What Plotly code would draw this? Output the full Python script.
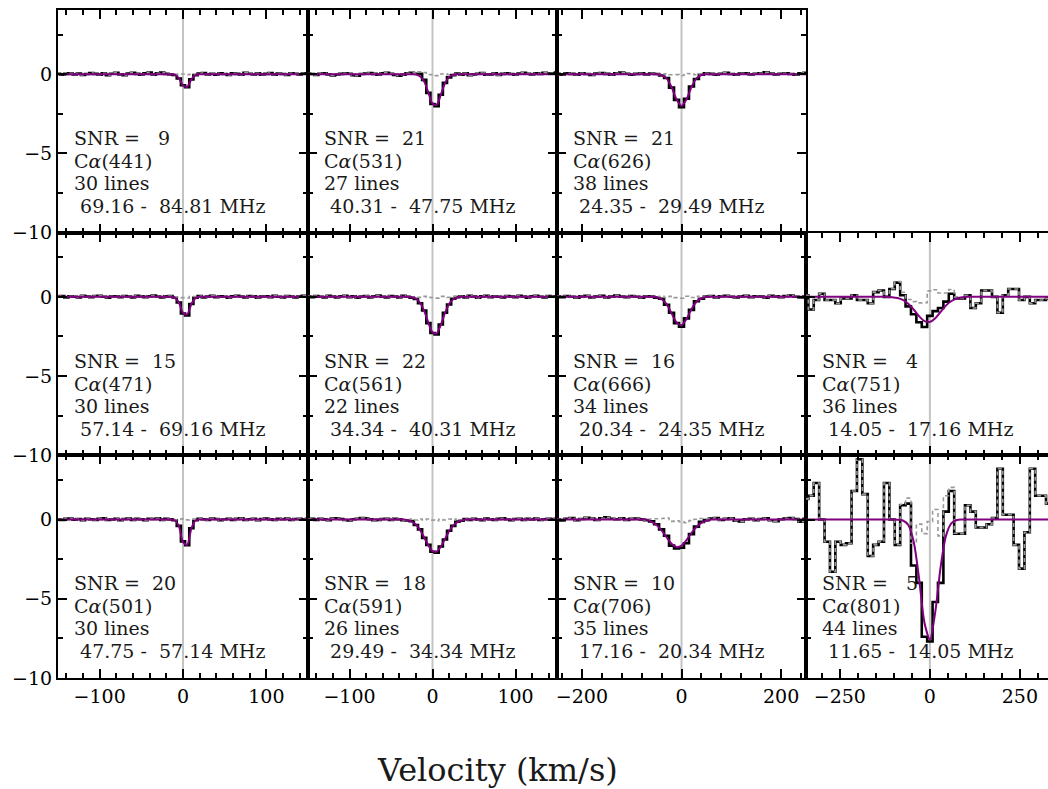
import numpy as np
import plotly.graph_objects as go
from plotly.subplots import make_subplots

# ---------------- velocity channel grids (km/s) ----------------
vel_narrow = np.arange(-150, 151, 5)    # 61 channels, columns 1-2
vel_mid = np.arange(-250, 251, 10)      # 51 channels, column 3
vel_wide = np.arange(-345, 346, 15)     # 47 channels, column 4

# ---------------- stacked spectra ----------------
data_441 = [0.03, -0.04, 0.02, 0.06, -0.02, 0.04, -0.05, 0.01, 0.07, 0.02,
            -0.03, 0.05, -0.06, 0.03, 0.08, -0.01, -0.07, 0.04, 0.09, 0.02,
            -0.04, 0.06, 0.10, -0.03, 0.05, 0.11, 0.02, -0.02, -0.05, -0.27,
            -0.70, -0.82, -0.33, -0.06, 0.04, 0.07, -0.02, 0.03, -0.04, 0.05,
            0.01, -0.05, 0.06, 0.02, -0.03, 0.08, 0.03, -0.02, 0.05, -0.04,
            0.02, 0.07, -0.03, 0.04, 0.01, -0.05, 0.06, 0.03, -0.02, 0.04,
            0.05]
data_531 = [0.04, 0.01, -0.05, 0.03, 0.06, -0.02, -0.08, -0.04, 0.02, 0.05,
            0.03, -0.06, -0.09, 0.01, 0.04, 0.07, 0.02, -0.03, 0.05, 0.08,
            0.03, -0.05, -0.10, -0.04, 0.06, 0.09, 0.03, 0.02, -0.36, -1.18,
            -1.88, -2.02, -1.30, -0.55, -0.20, -0.06, 0.04, -0.03, 0.05, -0.06,
            -0.02, 0.03, 0.07, -0.04, -0.01, 0.05, -0.05, 0.02, 0.06, 0.01,
            -0.03, 0.04, 0.08, 0.03, -0.02, 0.05, 0.02, 0.09, 0.04, 0.06,
            0.10]
data_626 = [0.03, -0.04, 0.05, 0.02, -0.03, 0.06, 0.01, -0.05, 0.04, 0.07,
            0.02, -0.03, 0.05, 0.10, 0.03, -0.04, 0.02, 0.06, -0.02, 0.04,
            0.01, -0.08, -0.24, -0.85, -1.62, -2.08, -1.55, -0.78, -0.30, -0.03,
            0.05, 0.02, -0.04, 0.03, 0.08, 0.01, -0.03, 0.04, 0.06, -0.02,
            0.03, 0.05, 0.12, 0.04, -0.02, 0.03, 0.06, 0.01, -0.04, 0.05,
            0.08]
data_471 = [0.02, 0.05, -0.03, 0.04, 0.01, -0.04, 0.06, 0.03, -0.02, 0.05,
            0.07, 0.01, -0.05, 0.03, 0.04, -0.02, 0.05, 0.02, -0.03, 0.06,
            0.03, -0.02, 0.04, 0.08, 0.02, -0.04, 0.03, 0.05, -0.04, -0.36,
            -1.05, -1.18, -0.45, -0.06, 0.05, -0.03, 0.02, 0.06, -0.02, 0.04,
            0.01, -0.05, 0.03, 0.07, 0.02, -0.04, 0.05, 0.03, -0.06, 0.02,
            0.04, -0.02, 0.06, 0.01, -0.03, 0.05, 0.02, -0.04, 0.03, 0.06,
            0.02]
data_561 = [0.03, -0.02, 0.05, 0.01, -0.04, 0.06, 0.02, -0.03, 0.04, 0.07,
            -0.02, 0.03, -0.06, 0.02, 0.05, -0.03, 0.04, 0.08, 0.01, -0.04,
            0.05, 0.02, -0.03, 0.06, 0.01, -0.05, -0.14, -0.40, -0.86, -1.66,
            -2.28, -2.38, -1.74, -1.00, -0.48, -0.12, -0.02, 0.04, -0.03, 0.06,
            0.02, -0.05, 0.03, 0.07, -0.02, 0.04, 0.01, -0.04, 0.05, 0.03,
            -0.02, 0.06, 0.02, -0.05, 0.04, 0.07, 0.01, -0.03, 0.05, 0.02,
            0.04]
data_666 = [0.04, -0.02, 0.05, 0.01, -0.05, 0.03, 0.07, -0.03, 0.02, 0.06,
            -0.04, 0.03, 0.08, 0.02, -0.02, 0.05, 0.01, -0.06, 0.04, 0.02,
            -0.05, -0.12, -0.50, -1.00, -1.66, -1.88, -1.36, -0.82, -0.28, -0.12,
            0.02, 0.05, -0.03, 0.04, 0.07, 0.01, -0.04, 0.03, 0.06, -0.02,
            0.04, 0.02, -0.05, 0.06, 0.03, -0.02, 0.05, 0.08, 0.01, -0.03,
            0.04]
data_751 = [0.10, -0.80, -0.20, 0.20, -0.20, -0.20, -0.40, -0.10, -0.10, 0.10,
            -0.20, -0.20, -0.40, 0.30, 0.40, 0.00, 0.50, 0.90, 0.10, -0.60,
            -1.10, -1.60, -1.90, -1.20, -0.90, -0.70, -0.30, 0.20, -0.10, -0.10,
            0.10, -0.70, -0.40, 0.40, 0.40, 0.00, -1.00, 0.10, 0.50, 0.50,
            -0.20, 0.00, -0.40, -0.20, -0.20, -0.10, 0.00]
data_501 = [0.02, -0.03, 0.04, 0.06, -0.01, 0.03, -0.04, 0.05, 0.02, -0.02,
            0.04, 0.07, -0.03, 0.01, 0.05, -0.05, 0.03, 0.06, -0.02, 0.04,
            0.02, -0.04, 0.05, 0.03, 0.08, -0.02, 0.04, 0.01, -0.05, -0.40,
            -1.38, -1.62, -0.55, -0.04, 0.05, 0.02, -0.03, 0.06, 0.03, -0.04,
            0.02, 0.05, -0.02, 0.04, 0.07, -0.03, 0.02, 0.05, -0.05, 0.03,
            0.06, 0.01, -0.03, 0.04, 0.02, 0.06, -0.02, 0.03, 0.05, 0.01,
            0.04]
data_591 = [0.03, 0.05, -0.02, 0.04, 0.01, -0.04, 0.06, 0.08, 0.03, -0.03,
            -0.06, 0.02, 0.05, 0.10, 0.07, 0.02, -0.04, -0.02, 0.03, 0.05,
            -0.03, 0.04, 0.02, -0.05, -0.06, -0.10, -0.35, -0.62, -1.16, -1.60,
            -2.03, -2.10, -1.70, -1.26, -0.71, -0.40, -0.13, -0.08, 0.03, -0.02,
            0.05, 0.01, -0.04, 0.06, 0.02, -0.03, 0.04, 0.07, 0.02, -0.05,
            0.03, 0.05, -0.02, 0.04, 0.01, 0.06, -0.03, 0.02, 0.05, 0.03,
            0.04]
data_706 = [0.02, -0.06, 0.05, 0.09, -0.04, 0.03, 0.11, 0.06, -0.03, 0.08,
            0.14, 0.05, 0.02, 0.07, -0.02, 0.04, 0.06, 0.01, -0.05, -0.12,
            -0.30, -0.62, -1.02, -1.65, -1.82, -1.78, -1.50, -0.92, -0.45, -0.15,
            -0.04, 0.06, 0.10, -0.03, 0.04, 0.07, -0.08, -0.12, 0.02, 0.05,
            -0.04, 0.03, 0.08, -0.05, -0.10, 0.02, 0.06, 0.09, 0.03, -0.14,
            0.05]
data_801 = [1.3, 1.5, 2.3, 0.0, -1.4, -3.3, -1.4, -1.6, -1.5, 1.8,
            3.8, 1.6, -2.3, -1.6, -1.4, 2.3, 0.0, -1.6, 0.9, 1.0,
            -2.9, -4.0, -7.4, -7.7, -5.2, -4.0, 0.5, 1.8, -0.9, -0.9,
            0.9, 0.5, -0.5, -0.5, -0.3, 0.1, 3.2, 0.3, 0.3, -1.6,
            -3.1, -0.8, 3.2, 1.5, 1.5, 1.0, 0.5]

# ---------------- Gaussian fit values (non-zero channel window) ----------------
fit_441 = (28, [-0.03, -0.25, -0.71, -0.79, -0.33, -0.05])
fit_531 = (26, [-0.02, -0.13, -0.47, -1.16, -1.85, -1.93, -1.31, -0.58, -0.17, -0.03])
fit_626 = (21, [-0.05, -0.26, -0.81, -1.59, -2.00, -1.59, -0.81, -0.26, -0.05])
fit_471 = (28, [-0.05, -0.35, -1.00, -1.11, -0.47, -0.08])
fit_561 = (25, [-0.03, -0.11, -0.37, -0.89, -1.63, -2.23, -2.30, -1.77, -1.03, -0.45, -0.15, -0.04])
fit_666 = (20, [-0.03, -0.15, -0.46, -1.03, -1.61, -1.79, -1.40, -0.78, -0.31, -0.09, -0.01])
fit_751 = (16, [-0.02, -0.07, -0.19, -0.43, -0.80, -1.22, -1.53, -1.58, -1.35, -0.94, -0.54, -0.26, -0.10, -0.03])
fit_501 = (28, [-0.04, -0.40, -1.42, -1.60, -0.57, -0.06])
fit_591 = (24, [-0.04, -0.13, -0.32, -0.65, -1.13, -1.63, -1.99, -2.02, -1.72, -1.23, -0.74, -0.37, -0.16, -0.06])
fit_706 = (19, [-0.15, -0.35, -0.68, -1.12, -1.53, -1.74, -1.65, -1.30, -0.85, -0.47, -0.21, -0.08])
fit_801 = (17, [-0.01, -0.06, -0.35, -1.40, -3.71, -6.51, -7.57, -5.83, -2.97, -1.00, -0.23, -0.03])

# ---------------- panel labels ----------------
transitions = [441, 531, 626, 471, 561, 666, 751, 501, 591, 706, 801]
snr_values = [9, 21, 21, 15, 22, 16, 4, 20, 18, 10, 5]
n_lines = [30, 27, 38, 30, 22, 34, 36, 30, 26, 35, 44]
freq_lo = [69.16, 40.31, 24.35, 57.14, 34.34, 20.34, 14.05, 47.75, 29.49, 17.16, 11.65]
freq_hi = [84.81, 47.75, 29.49, 69.16, 40.31, 24.35, 17.16, 57.14, 34.34, 20.34, 14.05]
panel_rc = [(1, 1), (1, 2), (1, 3), (2, 1), (2, 2), (2, 3), (2, 4),
            (3, 1), (3, 2), (3, 3), (3, 4)]
panel_data = [data_441, data_531, data_626, data_471, data_561, data_666, data_751,
              data_501, data_591, data_706, data_801]
panel_fit = [fit_441, fit_531, fit_626, fit_471, fit_561, fit_666, fit_751,
             fit_501, fit_591, fit_706, fit_801]

# column settings
col_vel = {1: vel_narrow, 2: vel_narrow, 3: vel_mid, 4: vel_wide}
col_range = {1: [-150, 150], 2: [-150, 150], 3: [-250, 250], 4: [-344, 328]}
col_dtick = {1: 100, 2: 100, 3: 200, 4: 250}
col_minor = {1: 20, 2: 20, 3: 40, 4: 50}

W, H = 1048, 789
ML, MR, MT, MB = 58, 0, 10, 111
PW = W - ML - MR
PH = H - MT - MB
col_px = {1: (58, 308), 2: (308, 557), 3: (557, 806), 4: (806, 1048)}
col_dom = {c: [(a - ML) / PW, (b - ML) / PW] for c, (a, b) in col_px.items()}
row_dom = {1: [2 / 3, 1.0], 2: [1 / 3, 2 / 3], 3: [0.0, 1 / 3]}

FONT = "DejaVu Serif"
fig = make_subplots(rows=3, cols=4, horizontal_spacing=0, vertical_spacing=0)

for r in (1, 2, 3):
    for c in (1, 2, 3, 4):
        fig.update_xaxes(domain=col_dom[c], row=r, col=c)
        fig.update_yaxes(domain=row_dom[r], row=r, col=c)
        if r == 1 and c == 4:
            fig.update_xaxes(visible=False, row=r, col=c)
            fig.update_yaxes(visible=False, row=r, col=c)
            continue
        fig.update_xaxes(range=col_range[c], dtick=col_dtick[c], tick0=0,
                         showline=True, linewidth=2, linecolor="black",
                         mirror="ticks", ticks="inside", ticklen=9, tickwidth=1.5,
                         tickcolor="black", showgrid=False, zeroline=False,
                         showticklabels=(r == 3),
                         tickfont=dict(family=FONT, size=19, color="black"),
                         minor=dict(dtick=col_minor[c], tick0=0, ticks="inside",
                                    ticklen=5, tickwidth=1.5, tickcolor="black",
                                    showgrid=False),
                         row=r, col=c)
        fig.update_yaxes(range=[-10, 4.05], dtick=5, tick0=0,
                         showline=True, linewidth=2, linecolor="black",
                         mirror=("ticks" if c < 4 else False),
                         ticks="inside", ticklen=9, tickwidth=1.5, tickcolor="black",
                         showgrid=False, zeroline=False,
                         showticklabels=(c == 1),
                         tickfont=dict(family=FONT, size=19, color="black"),
                         minor=dict(dtick=2.5, tick0=0, ticks="inside",
                                    ticklen=5, tickwidth=1.5, tickcolor="black",
                                    showgrid=False),
                         row=r, col=c)

annotations = []
for k, (r, c) in enumerate(panel_rc):
    vel = col_vel[c]
    data = np.array(panel_data[k], dtype=float)
    start, window = panel_fit[k]
    fit = np.zeros(len(vel))
    fit[start:start + len(window)] = window
    resid = data - fit
    n = (r - 1) * 4 + c
    xs = "x" if n == 1 else f"x{n}"
    ys = "y" if n == 1 else f"y{n}"

    fig.add_shape(type="line", x0=0, x1=0, y0=0, y1=1, xref=xs, yref=f"{ys} domain",
                  line=dict(color="#c4c4c4", width=2), layer="below")
    fig.add_trace(go.Scatter(x=vel, y=data, mode="lines",
                             line=dict(color="black", width=2.6, shape="hvh"),
                             showlegend=False, hoverinfo="skip"), row=r, col=c)
    fig.add_trace(go.Scatter(x=vel, y=resid, mode="lines",
                             line=dict(color="#9a9a9a", width=1.6, shape="hvh",
                                       dash="4px,3px"),
                             showlegend=False, hoverinfo="skip"), row=r, col=c)
    fig.add_trace(go.Scatter(x=vel, y=fit, mode="lines",
                             line=dict(color="#800080", width=2, shape="spline",
                                       smoothing=0.8),
                             showlegend=False, hoverinfo="skip"), row=r, col=c)

    width_px = col_px[c][1] - col_px[c][0]
    xoff = 14 / width_px
    nb = "\u00a0"
    lines = [
        f"SNR ={' ' + format(snr_values[k], '3d')}".replace(" ", nb),
        f"C<i>α</i>({transitions[k]})",
        f"{n_lines[k]} lines".replace(" ", nb),
        f"{freq_lo[k]:6.2f} - {freq_hi[k]:6.2f} MHz".replace(" ", nb),
    ]
    ypos = [0.425, 0.322, 0.223, 0.120]
    for txt, yp in zip(lines, ypos):
        annotations.append(dict(text=txt, x=xoff, y=yp, xref=f"{xs} domain",
                                yref=f"{ys} domain", xanchor="left", yanchor="middle",
                                showarrow=False,
                                font=dict(family=FONT, size=19, color="#1a1a1a")))

annotations.append(dict(text="Velocity (km/s)", x=(497 - ML) / PW, y=-(770 - (H - MB)) / PH,
                        xref="paper", yref="paper", xanchor="center", yanchor="middle",
                        showarrow=False, font=dict(family=FONT, size=32, color="#1a1a1a")))

fig.update_layout(width=W, height=H, margin=dict(l=ML, r=MR, t=MT, b=MB),
                  paper_bgcolor="white", plot_bgcolor="white",
                  font=dict(family=FONT), annotations=annotations,
                  showlegend=False)

fig.write_html("out.html")
